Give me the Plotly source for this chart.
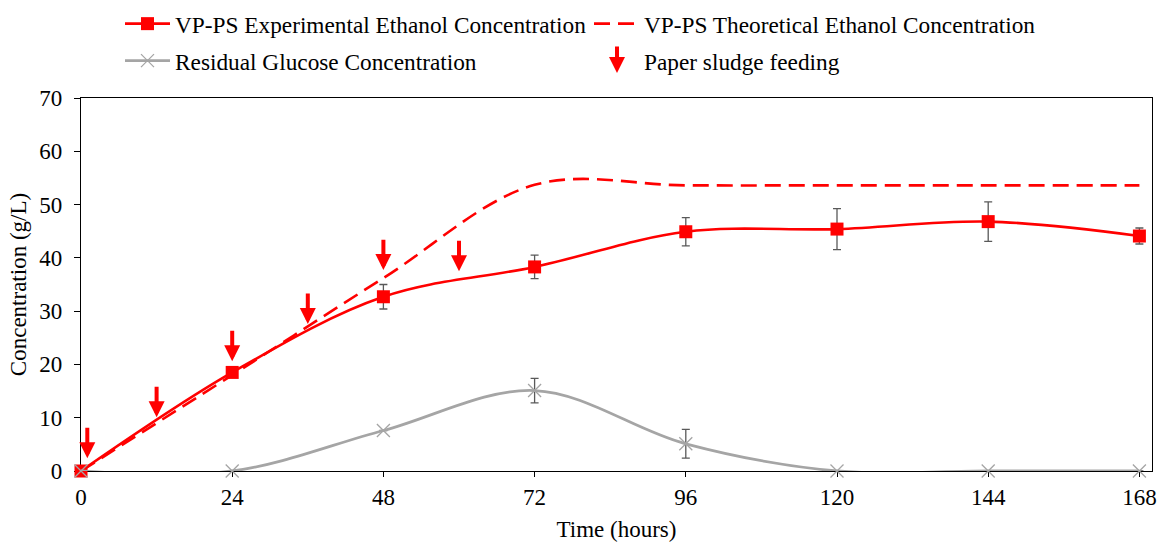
import plotly.graph_objects as go

# ---- data ----
hours = [0, 24, 48, 72, 96, 120, 144, 168]
ethanol_exp = [0, 18.5, 32.7, 38.3, 44.9, 45.4, 46.8, 44.1]
ethanol_exp_err = [None, None, 2.3, 2.2, 2.65, 3.85, 3.7, 1.5]
ethanol_theo = [0, 18.0, 36.2, 53.7, 53.6, 53.6, 53.6, 53.6]
glucose = [0, 0, 7.6, 15.1, 5.1, 0, 0, 0]
glucose_err = [None, None, None, 2.3, 2.7, None, None, None]
feed_hours = [1, 12, 24, 36, 48, 60]
feed_tip = [2.4, 10.1, 20.6, 27.6, 37.7, 37.5]
feed_arrow_len = 6.0
x_ticks = [0, 24, 48, 72, 96, 120, 144, 168]

RED = "#FF0000"
GRAY = "#A5A5A5"
ERR = "#595959"
FONT = "Liberation Serif"
FS = 23
LFS = 23.3

fig = go.Figure()

fig.add_trace(go.Scatter(
    x=hours, y=ethanol_exp, mode="lines+markers",
    name="VP-PS Experimental Ethanol Concentration",
    line=dict(color=RED, width=2.6, shape="spline", smoothing=1),
    marker=dict(symbol="square", size=13, color=RED),
    error_y=dict(type="data", array=ethanol_exp_err, color=ERR, thickness=1.3, width=4),
    cliponaxis=False, legend="legend",
))
fig.add_trace(go.Scatter(
    x=hours, y=ethanol_theo, mode="lines",
    name="VP-PS Theoretical Ethanol Concentration",
    line=dict(color=RED, width=2.6, dash="16px,8px", shape="spline", smoothing=1),
    cliponaxis=False, legend="legend",
))
fig.add_trace(go.Scatter(
    x=hours, y=glucose, mode="lines+markers",
    name="Residual Glucose Concentration",
    line=dict(color=GRAY, width=2.8, shape="spline", smoothing=1),
    marker=dict(symbol="x-thin", size=13, color=GRAY, line=dict(color=GRAY, width=1.3)),
    error_y=dict(type="data", array=glucose_err, color=ERR, thickness=1.3, width=4),
    cliponaxis=False, legend="legend2",
))
fig.add_trace(go.Scatter(
    x=[None], y=[None], mode="markers",
    name="Paper sludge feeding",
    marker=dict(symbol="square", size=10, color="rgba(0,0,0,0)"),
    legend="legend2",
))

# feeding arrows
for h, tip in zip(feed_hours, feed_tip):
    fig.add_annotation(
        x=h, y=tip, ax=h, ay=tip + feed_arrow_len, xref="x", yref="y",
        axref="x", ayref="y", text="", showarrow=True,
        arrowhead=2, arrowsize=0.8, arrowwidth=4, arrowcolor=RED,
    )

# legend arrow symbol
plot_l, plot_r, plot_t, plot_b = 81, 1152, 98, 471
def px_to_paper(px, py):
    return (px - plot_l) / (plot_r - plot_l), (plot_b - py) / (plot_b - plot_t)

lx, ly = px_to_paper(617, 73)
fig.add_annotation(
    x=lx, y=ly, xref="paper", yref="paper", ax=0, ay=-28,
    text="", showarrow=True, arrowhead=2, arrowsize=0.8, arrowwidth=4, arrowcolor=RED,
)

l1x, l1y = px_to_paper(120, 24)
l2x, l2y = px_to_paper(120, 61)

legend_common = dict(orientation="h", xanchor="left", yanchor="middle",
                     entrywidth=409, entrywidthmode="pixels", itemwidth=45,
                     font=dict(family=FONT, size=LFS, color="black"),
                     bgcolor="rgba(0,0,0,0)")

fig.update_layout(
    width=1159, height=543, autosize=False,
    margin=dict(l=plot_l, r=1159 - plot_r, t=plot_t, b=543 - plot_b, autoexpand=False),
    paper_bgcolor="white", plot_bgcolor="white",
    font=dict(family=FONT, size=FS, color="black"),
    legend=dict(x=l1x, y=l1y, **legend_common),
    legend2=dict(x=l2x, y=l2y, **legend_common),
    xaxis=dict(
        range=[0, 170], tickvals=x_ticks, ticks="outside", ticklen=5, tickwidth=1.2,
        tickcolor="black", showline=True, linecolor="black", linewidth=1.3, mirror=True,
        showgrid=False, zeroline=False, layer="below traces",
        title=dict(text="Time (hours)", font=dict(family=FONT, size=FS), standoff=12),
        tickfont=dict(family=FONT, size=FS),
    ),
    yaxis=dict(
        range=[0, 70], dtick=10, ticks="outside", ticklen=6, tickwidth=1.2,
        tickcolor="black", showline=True, linecolor="black", linewidth=1.3, mirror=True,
        showgrid=False, zeroline=False, layer="below traces", ticklabelstandoff=7,
        title=dict(text="Concentration (g/L)", font=dict(family=FONT, size=FS), standoff=6),
        tickfont=dict(family=FONT, size=FS),
    ),
)

fig.write_html("out.html")
